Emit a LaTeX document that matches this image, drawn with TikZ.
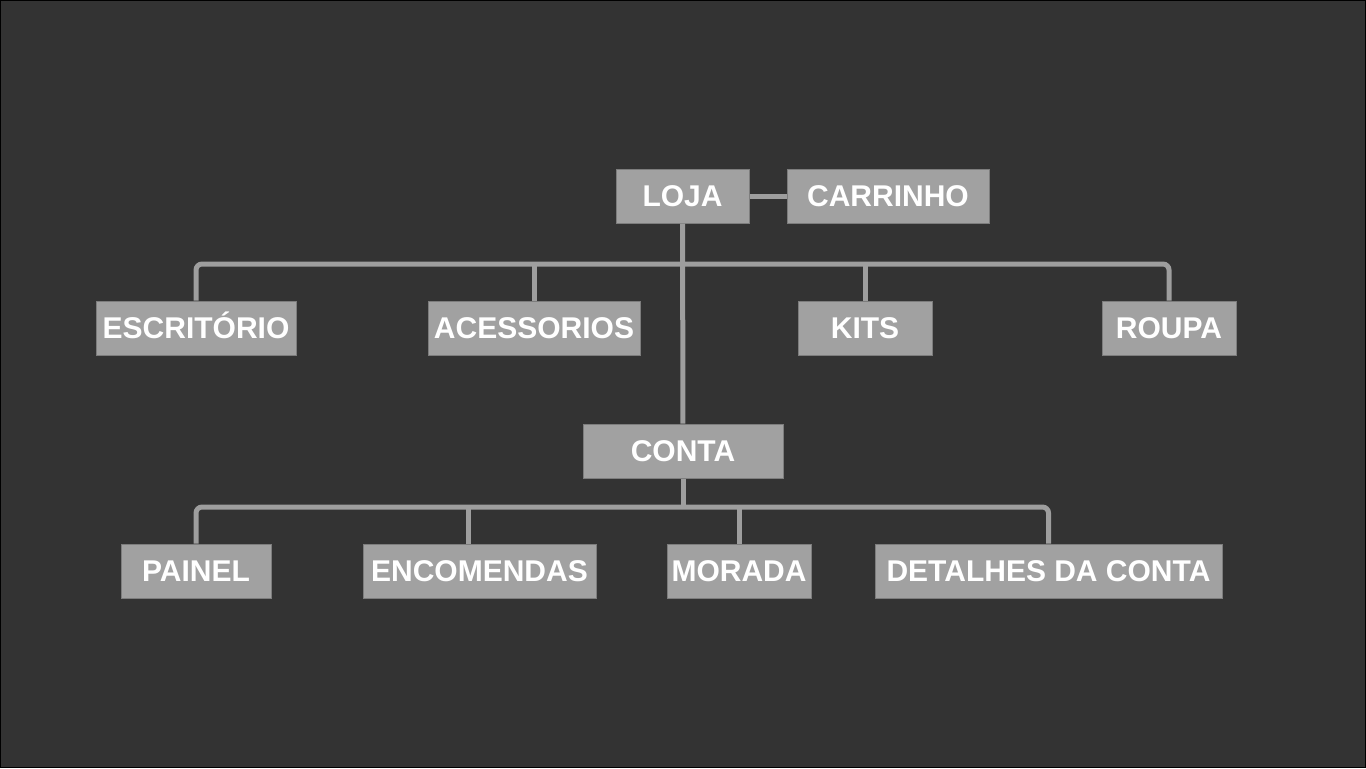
\documentclass[tikz,border=0pt]{standalone}
\usepackage{fontspec}
\setmainfont{Liberation Sans}
\usepackage{tikz}
\usetikzlibrary{positioning,calc}
\definecolor{PanelGray}{RGB}{51,51,51}
\definecolor{BoxGray}{RGB}{161,161,161}
\definecolor{EdgeGray}{RGB}{125,125,125}
\definecolor{LineGray}{RGB}{158,158,158}
\tikzset{
  pagebox/.style ={rectangle, draw=EdgeGray, line width=.5pt, fill=BoxGray,
                   text=white, font=\fontsize{15pt}{18pt}\selectfont\bfseries,
                   inner sep=0pt, minimum height=27pt, text height=10.7pt, text depth=0pt},
  link/.style    ={draw=LineGray, line width=2.5pt},
  buslink/.style ={link, rounded corners=3pt},
}
\begin{document}
\begin{tikzpicture}[x=0.5pt,y=-0.5pt]
  \path[use as bounding box] (0,0) rectangle (1366,768);
  \draw[fill=PanelGray, draw=black, line width=0.6pt] (0.5,0.5) rectangle (1365.5,767.5);
  % top level
  \node[pagebox,minimum width=66.5pt] (loja) at (682.5,196) {LOJA};
  \node[pagebox,minimum width=101pt] (carrinho) at (888,196) {CARRINHO};
  % shop sections
  \node[pagebox,minimum width=100pt] (escritorio) at (196,328) {ESCRITÓRIO};
  \node[pagebox,minimum width=106pt] (acessorios) at (534,328) {ACESSORIOS};
  \node[pagebox,minimum width=67pt] (kits) at (865,328) {KITS};
  \node[pagebox,minimum width=67pt] (roupa) at (1169,328) {ROUPA};
  % account
  \node[pagebox,minimum width=100pt] (conta) at (683,451) {CONTA};
  \node[pagebox,minimum width=75pt] (painel) at (196,571) {PAINEL};
  \node[pagebox,minimum width=116.5pt] (encomendas) at (479.5,571) {ENCOMENDAS};
  \node[pagebox,minimum width=72pt] (morada) at (739,571) {MORADA};
  \node[pagebox,minimum width=173.5pt] (detalhes) at (1048.5,571) {DETALHES DA CONTA};
  \coordinate (bus1) at (683,264);
  \coordinate (bus2) at (683,507);
  \coordinate (encdrop) at ([xshift=-5.75pt]encomendas.north);
  % connectors
  \draw[link] (loja) -- (carrinho);
  \draw[link] (loja) -- (conta);
  \draw[buslink] (escritorio.north) |- (bus1) -| (roupa.north);
  \foreach \n in {acessorios,kits}{\draw[link] (\n.north) -- (\n.north |- bus1);}
  \draw[link] (conta.south) -- (bus2);
  \draw[buslink] (painel.north) |- (bus2) -| (detalhes.north);
  \draw[link] (encdrop) -- (encdrop |- bus2);
  \draw[link] (morada.north) -- (morada.north |- bus2);
\end{tikzpicture}
\end{document}
